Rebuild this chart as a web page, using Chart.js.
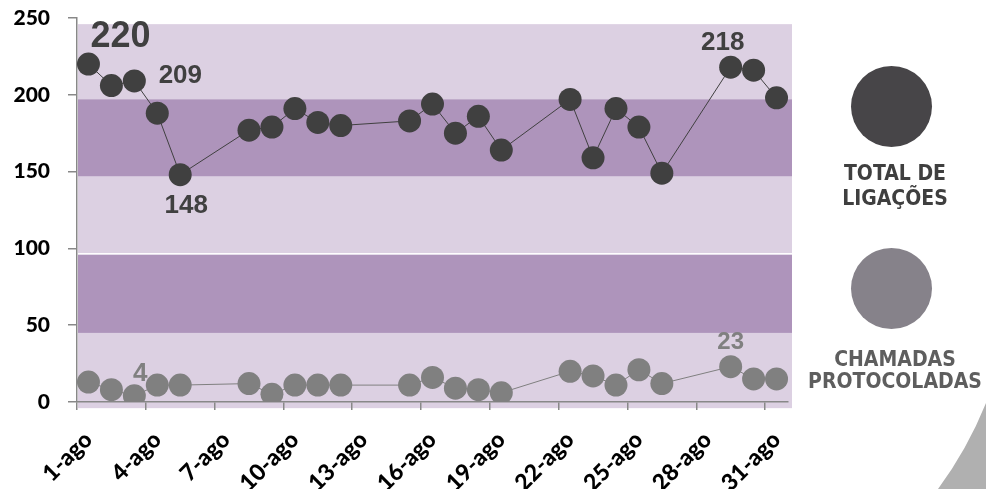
<!DOCTYPE html>
<html>
<head>
<meta charset="utf-8">
<script src="https://cdn.jsdelivr.net/npm/chart.js@4.4.1/dist/chart.umd.min.js"></script>
<style>
  body { margin: 0; background: #fff; }
  #wrap { position: relative; width: 986px; height: 489px; overflow: hidden; }
  #myChart { position: absolute; left: 0; top: 0; }
  .dot { position: absolute; width: 81px; height: 81px; border-radius: 50%; }
  .txt { position: absolute; width: 200px; text-align: center; font-family: "DejaVu Sans Condensed", "DejaVu Sans", sans-serif; font-weight: bold; font-size: 21px; }
  #corner { position: absolute; left: 0; top: 0; }
</style>
</head>
<body>
<div id="wrap">
  <canvas id="myChart" width="986" height="489"></canvas>
  <svg id="corner" width="986" height="489"><path d="M986,403 A392,392 0 0,1 938,489 L986,489 Z" fill="#b0b0b0"/></svg>
  <div class="dot" style="left:851px; top:66px; background:#474548;"></div>
  <div class="txt" style="left:795px; top:161px; line-height:25px; color:#3f3f3f;">TOTAL DE<br>LIGAÇÕES</div>
  <div class="dot" style="left:851px; top:248px; background:#86828a;"></div>
  <div class="txt" style="left:795px; top:348px; line-height:22px; color:#5e5e5e;">CHAMADAS<br>PROTOCOLADAS</div>
</div>
<script>
// dias de agosto
var categories = ['1-ago', '2-ago', '3-ago', '4-ago', '5-ago', '6-ago', '7-ago', '8-ago', '9-ago', '10-ago',
  '11-ago', '12-ago', '13-ago', '14-ago', '15-ago', '16-ago', '17-ago', '18-ago', '19-ago', '20-ago',
  '21-ago', '22-ago', '23-ago', '24-ago', '25-ago', '26-ago', '27-ago', '28-ago', '29-ago', '30-ago', '31-ago'];
var shownLabels = ['1-ago', '4-ago', '7-ago', '10-ago', '13-ago', '16-ago', '19-ago', '22-ago', '25-ago', '28-ago', '31-ago'];

var totalLigacoes = [220, 206, 209, 188, 148, null, null, 177, 179, 191, 182, 180, null, null, 183, 194,
  175, 186, 164, null, null, 197, 159, 191, 179, 149, null, null, 218, 216, 198];
var chamadasProtocoladas = [13, 8, 4, 11, 11, null, null, 12, 5, 11, 11, 11, null, null, 11, 16,
  9, 8, 6, null, null, 20, 17, 11, 21, 12, null, null, 23, 15, 15];

var yTicks = [0, 50, 100, 150, 200, 250];

// rotulos que aparecem no grafico (indice do ponto, deslocamento, tamanho)
var totalMarks = [
  { index: 0, dx: 32, dy: -27, size: 36 },
  { index: 2, dx: 46, dy: -5, size: 26 },
  { index: 4, dx: 6, dy: 31, size: 26 },
  { index: 28, dx: -8, dy: -24, size: 26 }
];
var chamadasMarks = [
  { index: 2, dx: 6, dy: -22, size: 26 },
  { index: 28, dx: 0, dy: -24, size: 24 }
];

var bandPlugin = {
  id: 'bands',
  beforeDraw: function (chart) {
    var ctx = chart.ctx, y = chart.scales.y, area = chart.chartArea;
    var left = area.left + 1, right = area.right + 4;
    ctx.save();
    ctx.fillStyle = '#dcd0e2';
    var top = y.getPixelForValue(246), bottom = y.getPixelForValue(-4);
    ctx.fillRect(left, top, right - left, bottom - top);
    ctx.fillStyle = '#ae94bb';
    [[147, 197], [45, 96]].forEach(function (b) {
      var t = y.getPixelForValue(b[1]), btm = y.getPixelForValue(b[0]);
      ctx.fillRect(left, t, right - left, btm - t);
    });
    ctx.fillStyle = '#ffffff';
    ctx.fillRect(left, y.getPixelForValue(96) - 1.5, right - left, 1.5);
    ctx.restore();
  }
};

var labelPlugin = {
  id: 'pointLabels',
  afterDatasetsDraw: function (chart) {
    var ctx = chart.ctx;
    chart.data.datasets.forEach(function (ds, di) {
      var meta = chart.getDatasetMeta(di);
      (ds.marks || []).forEach(function (m) {
        var pt = meta.data[m.index];
        ctx.save();
        ctx.font = 'bold ' + m.size + 'px "Liberation Sans", Arial, sans-serif';
        ctx.fillStyle = ds.labelColor;
        ctx.textAlign = 'center';
        ctx.textBaseline = 'middle';
        ctx.fillText(String(ds.data[m.index]), pt.x + m.dx, pt.y + m.dy);
        ctx.restore();
      });
    });
  }
};

var ctx = document.getElementById('myChart');
new Chart(ctx, {
  type: 'line',
  data: {
    labels: categories,
    datasets: [{
      label: 'TOTAL DE LIGAÇÕES',
      data: totalLigacoes,
      borderColor: '#404040',
      backgroundColor: '#404040',
      borderWidth: 1,
      pointRadius: 11.5,
      pointHoverRadius: 11.5,
      pointBorderWidth: 0,
      spanGaps: true,
      marks: totalMarks,
      labelColor: '#404040'
    }, {
      label: 'CHAMADAS PROTOCOLADAS',
      data: chamadasProtocoladas,
      borderColor: '#808080',
      backgroundColor: '#808080',
      borderWidth: 1,
      pointRadius: 11.5,
      pointHoverRadius: 11.5,
      pointBorderWidth: 0,
      spanGaps: true,
      marks: chamadasMarks,
      labelColor: '#808080'
    }]
  },
  options: {
    responsive: false,
    animation: false,
    layout: { padding: { top: 18, right: 198, left: 0, bottom: 0 } },
    plugins: { legend: { display: false }, tooltip: { enabled: false } },
    scales: {
      x: {
        offset: true,
        afterFit: function (scale) { scale.height = 87; },
        grid: {
          offset: true,
          drawOnChartArea: false,
          tickLength: 8,
          lineWidth: 1.5,
          color: function (c) { return c.index % 3 === 0 ? '#888888' : 'rgba(0,0,0,0)'; }
        },
        border: { color: '#888888', width: 1.5 },
        ticks: {
          autoSkip: false,
          maxRotation: 45,
          minRotation: 45,
          padding: 16,
          color: '#000',
          font: { family: 'Lato', weight: 900, size: 23 },
          callback: function (v, i) {
            var l = categories[i];
            return shownLabels.indexOf(l) > -1 ? l : '';
          }
        }
      },
      y: {
        min: 0,
        max: 250,
        afterFit: function (scale) {
          scale.width = 77;
          scale.paddingTop = 6;
          scale.paddingBottom = 6;
        },
        afterBuildTicks: function (scale) {
          scale.ticks = yTicks.map(function (v) { return { value: v }; });
        },
        grid: { drawOnChartArea: false, tickLength: 9, color: '#888888', lineWidth: 1.5 },
        border: { color: '#888888', width: 1.5 },
        ticks: {
          padding: 18,
          color: '#000',
          font: { family: 'Lato', weight: 900, size: 21 }
        }
      }
    }
  },
  plugins: [bandPlugin, labelPlugin]
});
</script>
</body>
</html>
